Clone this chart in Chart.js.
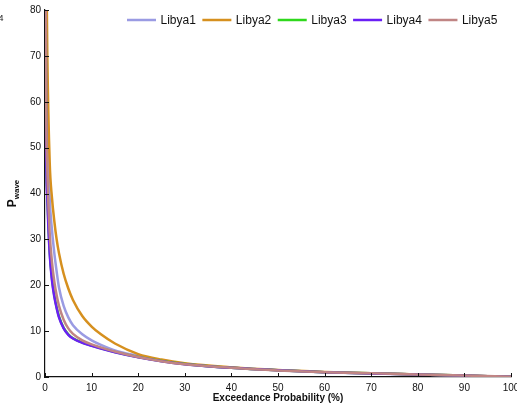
<!DOCTYPE html>
<html>
<head>
<meta charset="utf-8">
<script src="https://cdn.jsdelivr.net/npm/chart.js@4.4.1/dist/chart.umd.min.js"></script>
<style>
  html, body { margin: 0; padding: 0; background: #fff; overflow: hidden; }
  #wrap { width: 521px; height: 407px; }
</style>
</head>
<body>
<div id="wrap"><canvas id="chart" width="521" height="407"></canvas></div>
<script>
// Exceedance probability (%) at which each curve was read
const probs = [0, 0.25, 0.5, 1, 1.5, 2, 2.5, 3, 4, 5, 6, 8, 10, 12, 15, 20, 25, 30, 40, 50, 60, 70, 80, 90, 100];

// P_wave values (values above 80 run off the top)
const libya1 = [130, 76, 56, 39, 32, 27, 23, 19.5, 15.5, 13, 11.3, 9.3, 8.0, 7.0, 5.8, 4.6, 3.6, 2.85, 2.0, 1.45, 1.05, 0.8, 0.55, 0.3, 0.05];
const libya2 = [150, 95, 70, 47, 39, 34, 30, 27, 22.5, 19.3, 16.8, 13.3, 11.0, 9.3, 7.3, 5.0, 3.8, 3.0, 2.1, 1.5, 1.1, 0.8, 0.55, 0.3, 0.05];
const libya3 = [130, 53, 40, 27.5, 21.5, 17.8, 15.2, 13.2, 10.7, 9.3, 8.45, 7.5, 6.85, 6.25, 5.45, 4.35, 3.5, 2.85, 2.0, 1.45, 1.05, 0.8, 0.55, 0.3, 0.05];
const libya4 = [130, 52, 39, 27, 21, 17.5, 15, 13, 10.6, 9.2, 8.4, 7.45, 6.8, 6.2, 5.4, 4.3, 3.45, 2.8, 2.0, 1.45, 1.05, 0.78, 0.55, 0.3, 0.05];
const libya5 = [130, 60, 45, 31.5, 25, 20.8, 17.8, 15.5, 12.5, 10.6, 9.4, 8.0, 7.1, 6.45, 5.55, 4.35, 3.45, 2.8, 2.0, 1.42, 1.02, 0.8, 0.57, 0.32, 0.05];

const seriesNames = ['Libya1', 'Libya2', 'Libya3', 'Libya4', 'Libya5'];
const seriesValues = [libya1, libya2, libya3, libya4, libya5];
const seriesColors = ['#9a9be3', '#d6901f', '#2fd81c', '#6a1ff5', '#c08584'];

const xTicks = [0, 10, 20, 30, 40, 50, 60, 70, 80, 90, 100];
const yTicks = [0, 10, 20, 30, 40, 50, 60, 70, 80];

const FONT = '"Liberation Sans", Arial, Helvetica, sans-serif';

// Plugin: inward ticks, floating legend, y title with subscript, stray "4"
const decorations = {
    id: 'decorations',
    afterDraw(chart) {
        const ctx = chart.ctx;
        const xs = chart.scales.x;
        const ys = chart.scales.y;
        const area = chart.chartArea;

        ctx.save();
        // Inward tick marks
        ctx.strokeStyle = '#111';
        ctx.lineWidth = 1;
        xTicks.forEach(function(v) {
            const px = Math.round(xs.getPixelForValue(v)) + 0.5;
            ctx.beginPath();
            ctx.moveTo(px, area.bottom);
            ctx.lineTo(px, area.bottom - 4);
            ctx.stroke();
        });
        yTicks.forEach(function(v) {
            const py = Math.round(ys.getPixelForValue(v)) + 0.5;
            ctx.beginPath();
            ctx.moveTo(area.left, py);
            ctx.lineTo(area.left + 4, py);
            ctx.stroke();
        });

        // Legend inside the plot, top right
        ctx.font = '12px ' + FONT;
        ctx.textBaseline = 'middle';
        ctx.textAlign = 'left';
        let x = 127;
        const ly = 20;
        chart.data.datasets.forEach(function(ds) {
            ctx.strokeStyle = ds.borderColor;
            ctx.lineWidth = 2.5;
            ctx.beginPath();
            ctx.moveTo(x, ly);
            ctx.lineTo(x + 29, ly);
            ctx.stroke();
            ctx.fillStyle = '#111';
            ctx.fillText(ds.label, x + 33.5, ly + 0.5);
            x += 33.5 + ctx.measureText(ds.label).width + 6.5;
        });

        // Y axis title: P with subscript "wave"
        ctx.translate(16, (area.top + area.bottom) / 2);
        ctx.rotate(-Math.PI / 2);
        ctx.fillStyle = '#111';
        ctx.textBaseline = 'alphabetic';
        ctx.font = 'bold 12px ' + FONT;
        const pw = ctx.measureText('P').width;
        ctx.font = 'bold 8px ' + FONT;
        const sw = ctx.measureText('wave').width;
        const start = -(pw + sw) / 2;
        ctx.font = 'bold 12px ' + FONT;
        ctx.fillText('P', start, 0);
        ctx.font = 'bold 8px ' + FONT;
        ctx.fillText('wave', start + pw, 3);
        ctx.restore();

        // stray exponent digit at the top-left edge
        ctx.save();
        ctx.font = '9px ' + FONT;
        ctx.fillStyle = '#222';
        ctx.textBaseline = 'middle';
        ctx.fillText('4', -1.5, 19);
        ctx.restore();
    }
};

new Chart(document.getElementById('chart'), {
    type: 'line',
    data: {
        labels: probs,
        datasets: seriesNames.map(function(name, i) {
            return {
                label: name,
                data: probs.map(function(p, j) { return { x: p, y: seriesValues[i][j] }; }),
                borderColor: seriesColors[i],
                backgroundColor: seriesColors[i],
                borderWidth: 2.5,
                pointRadius: 0,
                fill: false,
                cubicInterpolationMode: 'monotone',
                order: seriesNames.length - i
            };
        })
    },
    options: {
        responsive: false,
        animation: false,
        events: [],
        layout: { padding: { top: 10, right: 10, left: 0, bottom: 0 } },
        plugins: {
            legend: { display: false },
            tooltip: { enabled: false }
        },
        scales: {
            x: {
                type: 'linear',
                min: 0,
                max: 100,
                afterFit: function(s) { s.height = 30; s.paddingRight = 0; s.paddingLeft = 0; },
                afterBuildTicks: function(s) { s.ticks = xTicks.map(function(v) { return { value: v }; }); },
                grid: { display: false, drawTicks: false },
                border: { display: true, color: '#111', width: 1.2 },
                ticks: {
                    padding: 5,
                    maxRotation: 0,
                    color: '#111',
                    font: { family: FONT, size: 10 }
                },
                title: {
                    display: true,
                    text: 'Exceedance Probability (%)',
                    color: '#111',
                    font: { family: FONT, size: 10, weight: 'bold' },
                    padding: { top: 0, bottom: 3 }
                }
            },
            y: {
                type: 'linear',
                min: 0,
                max: 80,
                afterFit: function(s) { s.width = 45; s.paddingTop = 0; s.paddingBottom = 0; },
                afterBuildTicks: function(s) { s.ticks = yTicks.map(function(v) { return { value: v }; }); },
                grid: { display: false, drawTicks: false },
                border: { display: true, color: '#111', width: 1.2 },
                ticks: {
                    padding: 4,
                    color: '#111',
                    font: { family: FONT, size: 10 }
                }
            }
        }
    },
    plugins: [decorations]
});
</script>
</body>
</html>
